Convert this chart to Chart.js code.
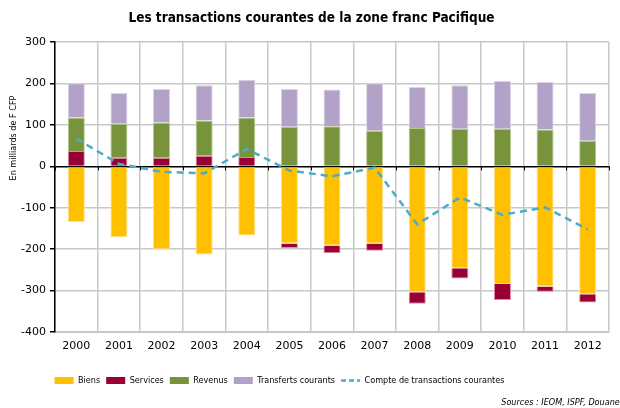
<!DOCTYPE html>
<html><head><meta charset="utf-8">
<script src="https://cdn.jsdelivr.net/npm/chart.js@4.4.0/dist/chart.umd.min.js"></script>
<style>html,body{margin:0;padding:0;background:#fff}#w{width:620px;height:408px}</style>
</head><body><div id="w"><canvas id="c" width="620" height="408"></canvas></div>
<script>
const years = ["2000","2001","2002","2003","2004","2005","2006","2007","2008","2009","2010","2011","2012"];
const biens = [-134,-171,-200,-213,-167,-186,-191,-186,-304,-246,-284,-290,-309];
const services = [37,21,21,26,23,-11,-19,-18,-28,-25,-39,-13,-20];
const revenus = [81,82,85,85,95,96,97,86,93,91,91,89,62];
const transferts = [83,74,81,85,91,91,89,115,99,105,115,115,115];
const compte = [67,6,-13,-17,42,-10,-24,-3,-140,-75,-117,-99,-152];
const yTicks = [300,200,100,0,-100,-200,-300,-400];

const FONT = "'DejaVu Sans', Verdana, sans-serif";
const CFONT = "'DejaVu Sans Condensed', 'DejaVu Sans', sans-serif";
const extraPlugin = {
  id:'extra',
  afterLayout(chart){
    const lg = chart.legend;
    if (lg) { lg.left -= 25; lg.right -= 25; }
    const tb = chart.titleBlock;
    if (tb) { tb.left += 7; tb.right += 7; }
  },
  afterDatasetsDraw(chart){
    const ctx = chart.ctx, xs = chart.scales.x, ys = chart.scales.y;
    const y0 = ys.getPixelForValue(0);
    const half = (xs.getPixelForTick(1) - xs.getPixelForTick(0)) / 2;
    ctx.save();
    ctx.strokeStyle = '#000';
    ctx.lineWidth = 1;
    for (let i = 0; i <= years.length; i++) {
      const x = Math.round(xs.getPixelForTick(0) - half + i * 2 * half) + 0.5;
      ctx.beginPath(); ctx.moveTo(x, y0); ctx.lineTo(x, y0 + 4); ctx.stroke();
    }
    ctx.restore();
  },
  afterDraw(chart){
    const ctx = chart.ctx;
    ctx.save();
    ctx.translate(14, 138);
    ctx.rotate(-Math.PI/2);
    ctx.font = "9px " + CFONT;
    ctx.fillStyle = '#000';
    ctx.textAlign = 'center';
    ctx.textBaseline = 'middle';
    ctx.fillText('En milliards de F CFP', 0, 0);
    ctx.restore();
    ctx.save();
    ctx.font = "italic 9px " + CFONT;
    ctx.fillStyle = '#000';
    ctx.textAlign = 'right';
    ctx.textBaseline = 'middle';
    ctx.fillText('Sources : IEOM, ISPF, Douanes', 624, 403);
    ctx.restore();
  }
};

new Chart(document.getElementById('c'), {
  data: {
    labels: years,
    datasets: [
      {type:'bar', label:'Biens', data:biens, backgroundColor:'#FFC000', borderColor:'#FFE08A', borderWidth:1, order:2},
      {type:'bar', label:'Services', data:services, backgroundColor:'#990033', borderColor:'#E08AA8', borderWidth:1, order:2},
      {type:'bar', label:'Revenus', data:revenus, backgroundColor:'#77933C', borderColor:'#B5C98E', borderWidth:1, order:2},
      {type:'bar', label:'Transferts courants', data:transferts, backgroundColor:'#B3A2C7', borderColor:'#DCD2E8', borderWidth:1, order:2},
      {type:'line', label:'Compte de transactions courantes', data:compte, borderColor:'#4BACC6', backgroundColor:'#4BACC6', borderWidth:2.5, borderDash:[7,5], pointRadius:0, tension:0, order:1, stack:'line'}
    ]
  },
  options: {
    responsive:false,
    animation:false,
    devicePixelRatio:1,
    layout:{padding:{left:0,right:11,top:0,bottom:13}},
    datasets:{bar:{categoryPercentage:1, barPercentage:0.4}},
    plugins:{
      title:{display:true, text:'Les transactions courantes de la zone franc Pacifique', color:'#000',
        font:{family:CFONT, size:13.5, weight:'bold'}, padding:{top:10,bottom:16}},
      legend:{position:'bottom', align:'center',
        labels:{color:'#000', font:{family:CFONT, size:9}, boxWidth:19, boxHeight:7, padding:6,
          usePointStyle:true, pointStyleWidth:19,
          generateLabels(chart){
            return chart.data.datasets.map((d,i)=>({
              text:d.label, fillStyle:d.backgroundColor, strokeStyle:d.type==='line'?d.borderColor:d.backgroundColor,
              lineWidth:d.type==='line'?2.5:0, lineDash:d.type==='line'?[5,3]:[], pointStyle:d.type==='line'?'line':'rect',
              datasetIndex:i, hidden:false, fontColor:'#000'
            }));
          }
        }},
      tooltip:{enabled:false}
    },
    scales:{
      x:{stacked:true, offset:true,
        afterFit(s){ s.height = 38; },
        grid:{offset:true, color:'#C8C8C8', lineWidth:1.5, drawTicks:false},
        border:{display:true, color:'#C8C8C8', width:2},
        ticks:{color:'#000', font:{family:FONT, size:11}, padding:8}},
      y:{stacked:true, min:-400, max:300,
        afterBuildTicks(s){ s.ticks = yTicks.map(v=>({value:v})); },
        afterFit(s){ s.width = 55; },
        grid:{color:(c)=>c.tick && c.tick.value===0 ? '#000' : '#C8C8C8', lineWidth:1.5, tickLength:5,
          tickColor:'#000'},
        border:{display:true, color:'#000', width:1.5},
        ticks:{color:'#000', font:{family:FONT, size:11}, padding:4}}
    }
  },
  plugins:[extraPlugin]
});
</script></body></html>
